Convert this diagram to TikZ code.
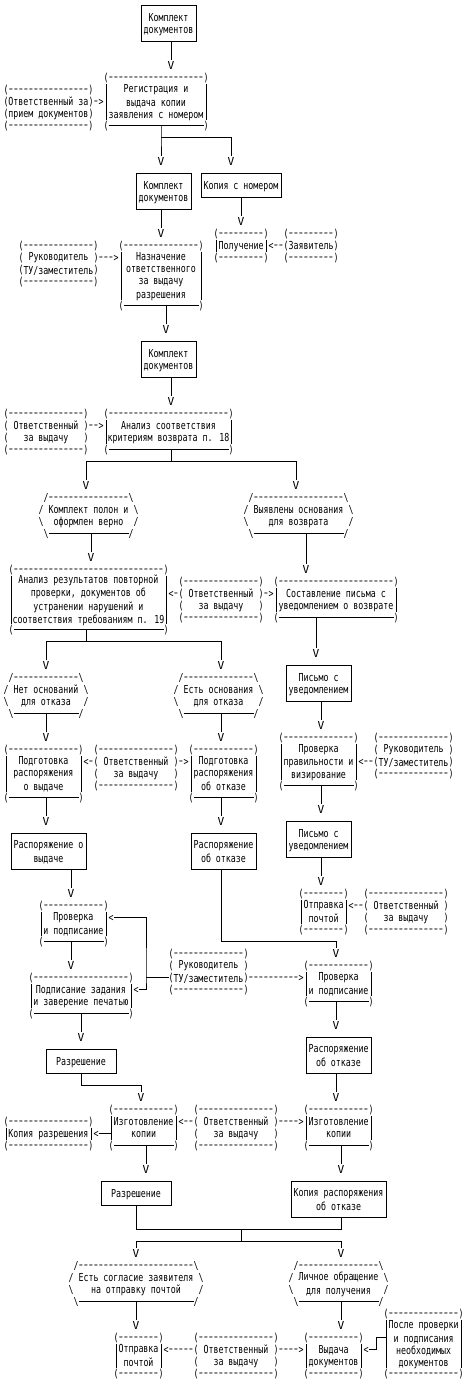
\documentclass[tikz,border=0pt]{standalone}
\usepackage{graphicx}
\usepackage{fontspec}
\newfontfamily\monofnt[FakeStretch=0.755,Ligatures=TeXOff]{DejaVu Sans Mono}
\newcommand\xRS{\rule[-2pt]{0pt}{12pt}}
\newcommand\xd{\makebox[5pt]{\raisebox{0.8pt}{\scalebox{1.45}[1]{-}}}}
\newcommand\xV{\makebox[5pt]{\scalebox{1.35}[1]{V}}}
\newcommand\xdashes[1]{\ifnum#1>0 \xd\expandafter\xdashes\expandafter{\the\numexpr#1-1\relax}\fi}
\tikzset{
  fnt/.style={font={\monofnt\fontsize{11pt}{12pt}\selectfont}},
  ch/.style={fnt,inner sep=0pt,outer sep=0pt,text height=10pt,text depth=2pt},
  lbl/.style={ch,anchor=west},
  body/.style={fnt,inner sep=0pt,outer sep=0pt,align=center},
  docbox/.style={draw,line width=1pt},
  wire/.style={line width=1pt},
}
% generic box node: [opts] name c1 r1 c2 r2 text
\newcommand\xbnode[7][]{%
  \node[body,#1,minimum width={(#5-#3)*5pt},minimum height={(#6-#4)*12pt}]
    (#2) at ({(#3+#5)/2},{(#4+#6)/2}) {#7};}
% dashed row: name c1 c2 row
\newcommand\xdrow[4]{%
  \node[lbl] (#1) at ({#2-0.5},#4) {(\xdashes{\numexpr#3-#2-1\relax})};}
% process box
\newcommand\xproc[6]{%
  \xbnode{#1}{#2}{#3}{#4}{#5}{#6}
  \xdrow{#1-t}{#2}{#4}{#3}
  \draw[wire] (#2,#3+0.5) -- (#2,#5-0.5) (#4,#3+0.5) -- (#4,#5-0.5);
  \node[ch] (#1-bl) at (#2,#5) {(};
  \node[ch] (#1-br) at (#4,#5) {)};
  \draw[wire] (#2+0.5,#5) -- (#4-0.5,#5);}
% actor box
\newcommand\xactor[6]{%
  \xbnode{#1}{#2}{#3}{#4}{#5}{#6}
  \xdrow{#1-t}{#2}{#4}{#3}
  \xdrow{#1-b}{#2}{#4}{#5}
  \pgfmathtruncatemacro\rowA{#3+1}%
  \pgfmathtruncatemacro\rowB{#5-1}%
  \foreach \k in {\rowA,...,\rowB}{%
    \node[ch] (#1-l\k) at (#2,\k) {(};
    \node[ch] (#1-r\k) at (#4,\k) {)};}}
% dashed top/bottom, solid sides
\newcommand\xqbox[6]{%
  \xbnode{#1}{#2}{#3}{#4}{#5}{#6}
  \xdrow{#1-t}{#2}{#4}{#3}
  \xdrow{#1-b}{#2}{#4}{#5}
  \draw[wire] (#2,#3+0.5) -- (#2,#5-0.5) (#4,#3+0.5) -- (#4,#5-0.5);}
% hexagon decision: name c1 r1 c2 text
\newcommand\xhexa[5]{%
  \xbnode{#1}{#2}{#3}{#4}{#3+3}{#5}
  \node[lbl] (#1-t) at ({#2+0.5},#3) {/\xdashes{\numexpr#4-#2-3\relax}\textbackslash};
  \node[ch] (#1-a) at (#2,#3+1) {/};
  \node[ch] (#1-b) at (#4,#3+1) {\textbackslash};
  \node[ch] (#1-c) at (#2,#3+2) {\textbackslash};
  \node[ch] (#1-d) at (#4,#3+2) {/};
  \node[ch] (#1-e) at (#2+1,#3+3) {\textbackslash};
  \node[ch] (#1-f) at (#4-1,#3+3) {/};
  \draw[wire] (#2+1.5,#3+3) -- (#4-1.5,#3+3);}
\begin{document}
\begin{tikzpicture}[x=5pt,y=-12pt,line width=1pt]
\fill[white] (-1.2,-0.458333) rectangle (92.6,114.875);
\useasboundingbox (-1.2,-0.458333) rectangle (92.6,114.875);

% ---------- document boxes
\xbnode[docbox]{K1}{27}{0}{38}{3}{\xRS Комплект\\\xRS документов}
\xbnode[docbox]{K2}{26}{14}{37}{17}{\xRS Комплект\\\xRS документов}
\xbnode[docbox]{Kop}{39}{14}{55}{16}{\xRS Копия с номером}
\xbnode[docbox]{K3}{27}{28}{38}{31}{\xRS Комплект\\\xRS документов}
\xbnode[docbox]{Pis1}{56}{55}{69}{58}{\xRS Письмо с\\\xRS уведомлением}
\xbnode[docbox]{Pis2}{56}{68}{69}{71}{\xRS Письмо с\\\xRS уведомлением}
\xbnode[docbox]{RasV}{1}{69}{16}{72}{\xRS Распоряжение о\\\xRS выдаче}
\xbnode[docbox]{RasO1}{37}{69}{50}{72}{\xRS Распоряжение\\\xRS об отказе}
\xbnode[docbox]{Raz1}{8}{87}{22}{89}{\xRS Разрешение}
\xbnode[docbox]{RasO2}{60}{86}{73}{89}{\xRS Распоряжение\\\xRS об отказе}
\xbnode[docbox]{Raz2}{19}{98}{33}{100}{\xRS Разрешение}
\xbnode[docbox]{KopO}{57}{98}{76}{101}{\xRS Копия распоряжения\\\xRS об отказе}

% ---------- process boxes
\xproc{Reg}{20}{6}{40}{10}{\xRS Регистрация и\\\xRS выдача копии\\\xRS заявления с номером}
\xproc{Nazn}{23}{20}{39}{25}{\xRS Назначение\\\xRS ответственного\\\xRS за выдачу\\\xRS разрешения}
\xproc{An1}{20}{34}{45}{37}{\xRS Анализ соответствия\\\xRS критериям возврата п. 18}
\xproc{An2}{1}{47}{32}{52}{\xRS Анализ результатов повторной\\\xRS проверки, документов об\\\xRS устранении нарушений и\\\xRS соответствия требованиям п. 19}
\xproc{Sost}{54}{48}{78}{51}{\xRS Составление письма с\\\xRS уведомлением о возврате}
\xproc{Pod1}{0}{62}{15}{66}{\xRS Подготовка\\\xRS распоряжения\\\xRS о выдаче}
\xproc{Pod2}{37}{62}{50}{66}{\xRS Подготовка\\\xRS распоряжения\\\xRS об отказе}
\xproc{Prov1}{55}{61}{70}{65}{\xRS Проверка\\\xRS правильности и\\\xRS визирование}
\xproc{ProvL}{7}{75}{20}{78}{\xRS Проверка\\\xRS и подписание}
\xproc{ProvR}{60}{80}{73}{83}{\xRS Проверка\\\xRS и подписание}
\xproc{Podp}{5}{81}{25}{84}{\xRS Подписание задания\\\xRS и заверение печатью}
\xproc{Izg1}{21}{92}{34}{95}{\xRS Изготовление\\\xRS копии}
\xproc{Izg2}{60}{92}{73}{95}{\xRS Изготовление\\\xRS копии}

% ---------- actor boxes
\xactor{Act1}{0}{7}{17}{10}{\xRS Ответственный за\\\xRS прием документов}
\xactor{Zay}{56}{19}{66}{21}{\xRS Заявитель}
\xactor{Act2}{3}{20}{18}{23}{\xRS Руководитель\\\xRS ТУ/заместитель}
\xactor{Act3}{0}{34}{16}{37}{\xRS Ответственный\\\xRS за выдачу}
\xactor{Act4}{35}{48}{51}{51}{\xRS Ответственный\\\xRS за выдачу}
\xactor{Act5}{74}{61}{89}{64}{\xRS Руководитель\\\xRS ТУ/заместитель}
\xactor{Act6}{18}{62}{34}{65}{\xRS Ответственный\\\xRS за выдачу}
\xactor{Act7}{72}{74}{88}{77}{\xRS Ответственный\\\xRS за выдачу}
\xactor{Act8}{33}{79}{48}{82}{\xRS Руководитель\\\xRS ТУ/заместитель}
\xactor{Act9}{38}{92}{54}{95}{\xRS Ответственный\\\xRS за выдачу}
\xactor{Act10}{38}{111}{54}{114}{\xRS Ответственный\\\xRS за выдачу}

% ---------- boxes with dashed top and bottom
\xqbox{Pol}{42}{19}{52}{21}{\xRS Получение}
\xqbox{KopR}{0}{93}{17}{95}{\xRS Копия разрешения}
\xqbox{Otp1}{59}{74}{68}{77}{\xRS Отправка\\\xRS почтой}
\xqbox{Otp2}{22}{111}{31}{114}{\xRS Отправка\\\xRS почтой}
\xqbox{Vyd}{60}{111}{71}{114}{\xRS Выдача\\\xRS документов}
\xqbox{Posle}{76}{109}{91}{114}{\xRS После проверки\\\xRS и подписания\\\xRS необходимых\\\xRS документов}

% ---------- decisions
\xhexa{H1}{7}{41}{26}{\xRS Комплект полон и\\\xRS оформлен верно}
\xhexa{H2}{48}{41}{69}{\xRS Выявлены основания\\\xRS для возврата}
\xhexa{H3}{0}{56}{16}{\xRS Нет оснований\\\xRS для отказа}
\xhexa{H4}{34}{56}{51}{\xRS Есть основания\\\xRS для отказа}
\xhexa{H5}{13}{105}{39}{\xRS Есть согласие заявителя\\\xRS на отправку почтой}
\xhexa{H6}{57}{105}{76}{\xRS Личное обращение\\\xRS для получения}

% ---------- text arrows
\node[lbl] (a1) at (17.5,8) {\xd>};
\node[lbl] (a2) at (52.5,20) {<\xd\xd};
\node[lbl] (a3) at (18.5,21) {\xd\xd\xd>};
\node[lbl] (a4) at (16.5,35) {\xd\xd>};
\node[lbl] (a5) at (32.5,49) {<\xd};
\node[lbl] (a6) at (51.5,49) {\xd>};
\node[lbl] (a7) at (15.5,63) {<\xd};
\node[lbl] (a8) at (34.5,63) {\xd>};
\node[lbl] (a9) at (70.5,63) {<\xd\xd};
\node[lbl] (a10) at (68.5,75) {<\xd\xd};
\node[lbl] (a11) at (48.5,81) {\xdashes{10}>};
\node[lbl] (a12) at (34.5,93) {<\xd\xd};
\node[lbl] (a13) at (54.5,93) {\xd\xd\xd\xd>};
\node[lbl] (a14) at (31.5,112) {<\xdashes{5}};
\node[lbl] (a15) at (54.5,112) {\xd\xd\xd\xd>};
\node[ch] (lt1) at (21,76) {<};
\node[ch] (lt2) at (26,82) {<};
\node[ch] (lt3) at (18,94) {<};
\node[ch] (lt4) at (72,112) {<};

% ---------- arrow heads (V)
\foreach \n/\c/\r in {v1/33/5, v2/31/13, v3/45/13, v4/31/19, v5/47/18, v6/32/27,
  v7/33/33, v8/16/40, v9/58/40, v10/17/46, v11/60/47, v12/8/55, v13/43/55,
  v14/62/54, v15/8/61, v16/43/61, v17/63/60, v18/8/68, v19/43/68, v20/63/67,
  v21/63/73, v22/13/74, v23/66/79, v24/13/80, v25/15/86, v26/66/85, v27/27/91,
  v28/66/91, v29/28/97, v30/67/97, v31/26/104, v32/67/104, v33/26/110, v34/67/110}
  {\node[ch] (\n) at (\c,\r) {\xV};}

% ---------- junctions
\coordinate (j1) at (31,11);
\coordinate (j2) at (33,38);
\coordinate (j3) at (16,53);
\coordinate (j4) at (28,81);
\coordinate (j5) at (74,111);
\coordinate (j6) at (43,78);
\coordinate (j7) at (15,90);
\coordinate (j8) at (26,102);
\coordinate (j9) at (67,102);
\coordinate (j10) at (47,102);
\coordinate (j11) at (47,103);

% ---------- connectors
\draw[wire] (v1 |- K1.south) -- (v1.north);
\draw[wire] (j1 |- Reg.south) -- (j1) -- (v2.north);
\draw[wire] (j1) -| (v3.north);
\draw[wire] (v4 |- K2.south) -- (v4.north);
\draw[wire] (v5 |- Kop.south) -- (v5.north);
\draw[wire] (v6 |- Nazn.south) -- (v6.north);
\draw[wire] (v7 |- K3.south) -- (v7.north);
\draw[wire] (j2 |- An1.south) -- (j2);
\draw[wire] (v8.north) |- (j2) -| (v9.north);
\draw[wire] (v10 |- H1.south) -- (v10.north);
\draw[wire] (v11 |- H2.south) -- (v11.north);
\draw[wire] (j3 |- An2.south) -- (j3);
\draw[wire] (v12.north) |- (j3) -| (v13.north);
\draw[wire] (v14 |- Sost.south) -- (v14.north);
\draw[wire] (v15 |- H3.south) -- (v15.north);
\draw[wire] (v16 |- H4.south) -- (v16.north);
\draw[wire] (v17 |- Pis1.south) -- (v17.north);
\draw[wire] (v18 |- Pod1.south) -- (v18.north);
\draw[wire] (v19 |- Pod2.south) -- (v19.north);
\draw[wire] (v20 |- Prov1.south) -- (v20.north);
\draw[wire] (v21 |- Pis2.south) -- (v21.north);
\draw[wire] (v22 |- RasV.south) -- (v22.north);
\draw[wire] (j6 |- RasO1.south) -- (j6) -| (v23.north);
\draw[wire] (v24 |- ProvL.south) -- (v24.north);
\draw[wire] (v25 |- Podp.south) -- (v25.north);
\draw[wire] (v26 |- ProvR.south) -- (v26.north);
\draw[wire] (j7 |- Raz1.south) -- (j7) -| (v27.north);
\draw[wire] (v28 |- RasO2.south) -- (v28.north);
\draw[wire] (v29 |- Izg1.south) -- (v29.north);
\draw[wire] (v30 |- Izg2.south) -- (v30.north);
\draw[wire] (j8 |- Raz2.south) -- (j8) -- (j9) -- (j9 |- KopO.south);
\draw[wire] (j10) -- (j11);
\draw[wire] (v31.north) |- (j11) -| (v32.north);
\draw[wire] (v33 |- H5.south) -- (v33.north);
\draw[wire] (v34 |- H6.south) -- (v34.north);
% solid side arrows
\draw[wire] (lt1.east) -| (j4) |- (lt2.east);
\draw[wire] (j4) -- (Act8-l81.west);
\draw[wire] (lt3.east) -- (Izg1.west |- lt3);
\draw[wire] (lt4.east) -| (j5) -- (Posle.west |- j5);
\end{tikzpicture}
\end{document}
